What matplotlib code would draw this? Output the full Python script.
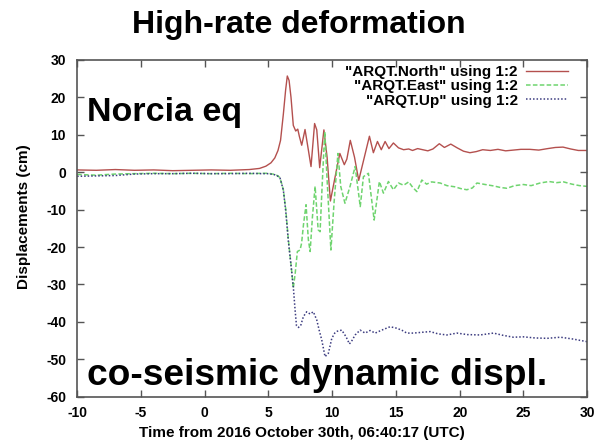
import matplotlib
matplotlib.use("Agg")
import matplotlib.pyplot as plt

plt.rcParams['font.family'] = ['Liberation Sans', 'DejaVu Sans']
plt.rcParams['axes.unicode_minus'] = False

# ---------------- data ----------------
t_north = [-10, -8.5, -7, -5.5, -4, -2.5, -1, 0.5, 2, 3.5, 4.3, 4.8, 5.2, 5.5, 5.75,
           5.95, 6.17, 6.35, 6.48, 6.62, 6.77, 6.95, 7.14, 7.3, 7.43, 7.61, 7.87, 8.08,
           8.34, 8.62, 8.79, 9.02, 9.35, 9.6, 9.86, 10.1, 10.36, 10.6, 10.95, 11.15,
           11.42, 11.75, 12.08, 12.45, 12.92, 13.23, 13.55, 13.85, 14.15, 14.45, 14.8,
           15.2, 15.6, 16.0, 16.3, 16.7, 17.1, 17.5, 17.9, 18.4, 18.8, 19.3, 19.8, 20.3,
           20.8, 21.3, 21.8, 22.4, 23.0, 23.6, 24.2, 24.8, 25.5, 26.2, 26.9, 27.5, 28.1,
           28.7, 29.3, 30.0]
v_north = [0.6, 0.5, 0.7, 0.5, 0.6, 0.4, 0.5, 0.6, 0.5, 0.7, 1.0, 1.6, 2.5, 3.8, 5.8,
           8.5, 15.5, 22.0, 25.7, 24.5, 20.0, 12.5, 11.0, 11.5, 9.5, 7.2, 11.4, 7.0,
           1.5, 13.0, 11.3, 1.2, 11.3, 4.0, -7.7, -3.5, 1.0, 5.0, 2.0, 3.5,
           8.5, 4.0, -2.2, 3.0, 9.6, 5.2, 8.2, 6.0, 8.2, 6.3, 7.8,
           6.5, 6.0, 6.2, 5.8, 6.3, 6.0, 5.7, 6.2, 7.6, 6.6, 7.5, 6.5, 5.6,
           5.2, 5.5, 6.0, 5.8, 6.1, 5.7, 5.9, 6.1, 6.1, 5.9, 6.3, 6.6, 6.7,
           6.2, 5.8, 5.8]

t_east = [-10, -8.5, -7, -5.5, -4, -2.5, -1, 0.5, 2, 3.5, 4.5, 5.0, 5.5, 5.75, 5.91,
          6.17, 6.36, 6.56, 6.78, 6.95, 7.1, 7.27, 7.48, 7.6, 7.75, 7.95, 8.13, 8.27,
          8.45, 8.66, 8.9, 9.05, 9.22, 9.42, 9.6, 9.9, 10.15, 10.45, 10.67, 11.0,
          11.4, 11.8, 12.2, 12.45, 12.84, 13.29, 13.7, 14.02, 14.41, 14.8, 15.2, 15.6,
          16.0, 16.3, 16.64, 17.03, 17.4, 17.8, 18.47, 19.0, 19.6, 20.1, 20.56, 21.0,
          21.35, 22.0, 22.7, 23.2, 23.7, 24.3, 25.0, 25.6, 26.3, 27.0, 27.6, 28.15,
          28.8, 29.4, 30.0]
v_east = [-0.6, -0.8, -0.5, -0.4, -0.3, -0.4, -0.3, -0.4, -0.3, -0.4, -0.3, -0.3, -0.6, -1.0, -1.5,
          -4.7, -10.0, -18.0, -25.0, -31.0, -27.0, -21.2, -20.8, -19.0, -14.0, -8.7, -18.0, -21.2,
          -12.0, -3.8, -15.4, -15.9, -3.0, 10.8, -2.0, -20.8, -8.0, 5.0, -3.8, -8.3,
          -3.8, 1.5, -9.2, -1.2, -0.3, -12.8, -2.5, -5.6, -2.5, -4.7, -2.9, -3.5,
          -2.6, -4.0, -5.2, -2.1, -3.2, -2.6, -2.9, -3.6, -3.9, -4.4, -4.7, -4.2,
          -2.9, -3.3, -3.7, -4.1, -4.3, -3.6, -3.3, -3.6, -2.9, -2.5, -2.8, -2.6,
          -3.2, -3.6, -3.8]

t_up = [-10, -8.5, -7, -5.5, -4, -2.5, -1, 0.5, 2, 3.5, 4.5, 5.0, 5.5, 5.75, 5.91,
        6.17, 6.36, 6.56, 6.78, 6.95, 7.09, 7.2, 7.35, 7.53, 7.74, 8.0, 8.27, 8.52,
        8.79, 9.0, 9.18, 9.44, 9.7, 9.97, 10.2, 10.4, 10.75, 11.09, 11.35, 11.55,
        11.8, 12.19, 12.58, 12.97, 13.37, 13.89, 14.54, 15.07, 15.5, 15.85, 16.37,
        17.0, 17.68, 18.3, 18.99, 19.78, 20.6, 21.6, 22.65, 23.4, 24.2, 25.0, 25.9,
        26.85, 27.9, 28.9, 30.0]
v_up = [-1.1, -1.0, -0.9, -0.5, -0.4, -0.4, -0.3, -0.4, -0.4, -0.3, -0.4, -0.4, -0.7, -1.1, -1.6,
        -4.8, -10.5, -18.3, -25.2, -30.6, -36.8, -41.0, -41.5, -41.0, -38.6, -37.3, -37.9, -37.3,
        -39.5, -42.5, -44.8, -49.3, -48.4, -44.4, -43.0, -42.5, -42.2, -44.0, -45.9, -45.0,
        -43.5, -42.2, -43.0, -42.3, -43.0, -42.2, -41.3, -41.7, -42.3, -43.0, -43.0,
        -42.8, -42.6, -43.2, -43.5, -43.0, -43.4, -43.5, -43.0, -43.6, -44.1, -44.0, -44.3,
        -44.4, -44.1, -44.6, -45.3]

labels = ['"ARQT.North" using 1:2', '"ARQT.East" using 1:2', '"ARQT.Up" using 1:2']
x_ticks = [-10, -5, 0, 5, 10, 15, 20, 25, 30]
y_ticks = [30, 20, 10, 0, -10, -20, -30, -40, -50, -60]

# ---------------- figure ----------------
fig = plt.figure(figsize=(5.98, 4.47), dpi=100)
ax = fig.add_axes([0.129, 0.1125, 0.853, 0.7535])

ax.plot(t_north, v_north, color='#b4504e', lw=1.0, label=labels[0])
ax.plot(t_east, v_east, color='#6fd46f', lw=1.1, ls=(0, (3, 1.5)), label=labels[1])
ax.plot(t_up, v_up, color='#3c3c80', lw=1.1, ls=(0, (1, 1.3)), label=labels[2])

ax.set_xlim(-10, 30)
ax.set_ylim(-60, 30)
ax.set_xticks(x_ticks)
ax.set_yticks(y_ticks)
ax.tick_params(direction='in', length=5, width=1, top=True, right=True,
               colors='#555555', labelcolor='black', labelsize=10)
ax.tick_params(axis='x', pad=7)
ax.tick_params(axis='y', pad=8)
for lab in ax.get_xticklabels() + ax.get_yticklabels():
    lab.set_fontweight('bold')
for s in ax.spines.values():
    s.set_color('#555555')
    s.set_linewidth(1.2)

ax.set_ylabel('Displacements (cm)', fontsize=11, fontweight='bold')
ax.yaxis.set_label_coords(-0.09, 0.535)
fig.text(0.505, 0.032, 'Time from 2016 October 30th, 06:40:17 (UTC)',
         ha='center', va='center', fontsize=11, fontweight='bold')

fig.text(0.5, 0.945, 'High-rate deformation', ha='center', va='center',
         fontsize=23, fontweight='bold')

ax.text(0.0185, 0.818, 'Norcia eq', transform=ax.transAxes, fontsize=24.5,
        fontweight='bold', va='baseline', ha='left')
ax.text(0.0185, 0.035, 'co-seismic dynamic displ.', transform=ax.transAxes,
        fontsize=26.7, fontweight='bold', va='baseline', ha='left')

leg = ax.legend(loc='upper right', bbox_to_anchor=(0.963, 0.985), frameon=False,
                markerfirst=False, fontsize=11, handlelength=2.8, handletextpad=0.5,
                labelspacing=0.02, borderpad=0, borderaxespad=0)
for t in leg.get_texts():
    t.set_fontweight('bold')

fig.savefig('out.png', dpi=100)
